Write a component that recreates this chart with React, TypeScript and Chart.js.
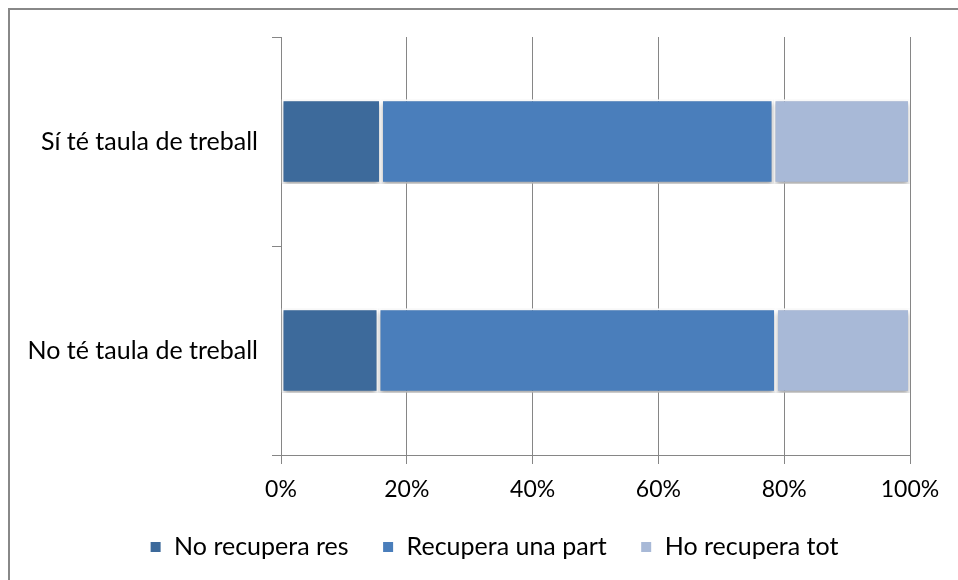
import React, { useEffect, useRef } from "react";
import { Chart, registerables } from "chart.js";

Chart.register(...registerables);

const categories = ["Sí té taula de treball", "No té taula de treball"];
const seriesNames = ["No recupera res", "Recupera una part", "Ho recupera tot"];
const noRecupera = [15.9, 15.5];
const recuperaPart = [62.4, 63.2];
const recuperaTot = [21.7, 21.3];
const xTicks = [0, 20, 40, 60, 80, 100];
const colors = ["#3D6A9B", "#4A7EBB", "#A8B9D7"];

const FONT = "Lato";

const framePlugin = {
  id: "frame",
  beforeDraw(chart: any) {
    const ctx = chart.ctx;
    ctx.save();
    ctx.fillStyle = "#ffffff";
    ctx.fillRect(0, 0, chart.width, chart.height);
    ctx.strokeStyle = "#888888";
    ctx.lineWidth = 2;
    ctx.beginPath();
    ctx.moveTo(9, chart.height + 5);
    ctx.lineTo(9, 9);
    ctx.lineTo(chart.width + 5, 9);
    ctx.stroke();
    ctx.restore();
    // let tick labels extend beyond their scale boxes
    Object.values(chart.scales).forEach((s: any) => {
      s._computeLabelArea = () => undefined;
    });
  },
};

const shadowPlugin = {
  id: "barShadow",
  beforeDatasetsDraw(chart: any) {
    const ctx = chart.ctx;
    ctx.save();
    ctx.shadowColor = "rgba(0,0,0,0.35)";
    ctx.shadowBlur = 5;
    ctx.shadowOffsetY = 3;
  },
  afterDatasetsDraw(chart: any) {
    chart.ctx.restore();
  },
};

export default function App() {
  const ref = useRef<HTMLCanvasElement | null>(null);

  useEffect(() => {
    if (!ref.current) return;
    const data = [noRecupera, recuperaPart, recuperaTot];
    const chart = new Chart(ref.current, {
      type: "bar",
      data: {
        labels: categories,
        datasets: seriesNames.map((name, i) => ({
          label: name,
          data: data[i],
          backgroundColor: colors[i],
          borderColor: "#ffffff",
          borderWidth: 2,
          borderSkipped: false,
          categoryPercentage: 1,
          barPercentage: 0.405,
        })),
      },
      options: {
        indexAxis: "y",
        responsive: false,
        animation: false,
        layout: { padding: { left: 78, right: 48, top: 37, bottom: 10.5 } },
        plugins: {
          legend: {
            position: "bottom",
            labels: {
              boxWidth: 12,
              boxHeight: 12,
              padding: 33.5,
              color: "#000000",
              font: { family: FONT, size: 25 },
            },
          },
          tooltip: { enabled: false },
        },
        scales: {
          x: {
            stacked: true,
            min: 0,
            max: 100,
            afterBuildTicks(scale: any) {
              scale.ticks = xTicks.map((v) => ({ value: v }));
            },
            afterFit(scale: any) {
              scale.height = 46;
            },
            ticks: {
              color: "#000000",
              font: { family: FONT, size: 23 },
              padding: 12,
              callback: (v: any) => v + "%",
            },
            grid: { color: "#868686", lineWidth: 1, tickLength: 9 },
            border: { color: "#868686", width: 1 },
          },
          y: {
            stacked: true,
            afterFit(scale: any) {
              scale.width = 203;
            },
            ticks: {
              color: "#000000",
              font: { family: FONT, size: 25 },
              padding: 14,
            },
            grid: {
              offset: true,
              drawOnChartArea: false,
              color: "#868686",
              tickLength: 9,
            },
            border: { color: "#868686", width: 1 },
          },
        },
      },
      plugins: [framePlugin, shadowPlugin],
    });
    return () => chart.destroy();
  }, []);

  return (
    <div style={{ position: "fixed", left: 0, top: 0, width: 958, height: 580 }}>
      <canvas ref={ref} width={958} height={580} style={{ display: "block" }} />
    </div>
  );
}
